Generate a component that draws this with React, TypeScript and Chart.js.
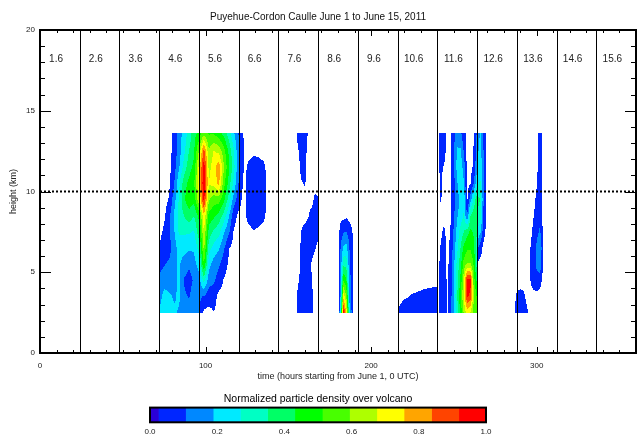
import React, { useEffect, useRef } from 'react';
import { Chart, registerables } from 'chart.js';

Chart.register(...registerables);

const FONT = '"Liberation Sans", Arial, Helvetica, sans-serif';

const TITLE = 'Puyehue-Cordon Caulle June 1 to June 15, 2011';
const X_TITLE = 'time (hours starting from June 1, 0 UTC)';
const Y_TITLE = 'height (km)';
const CB_TITLE = 'Normalized particle density over volcano';

const X_MAX = 360;
const Y_MAX = 20;
const X_TICKS = [0, 100, 200, 300];
const Y_TICKS = [0, 5, 10, 15, 20];
const X_MINOR_STEP = 10;
const Y_MINOR_STEP = 1;
const DAY_BOUNDS = [24, 48, 72, 96, 120, 144, 168, 192, 216, 240, 264, 288, 312, 336];
const DAY_STARTS = [0, 24, 48, 72, 96, 120, 144, 168, 192, 216, 240, 264, 288, 312, 336];
const DAY_LABELS = ['1.6', '2.6', '3.6', '4.6', '5.6', '6.6', '7.6', '8.6', '9.6', '10.6', '11.6', '12.6', '13.6', '14.6', '15.6'];
const REF_HEIGHT = 10;

// contour levels and colours
const LEVELS = [0, 0.025, 0.106, 0.188, 0.269, 0.35, 0.431, 0.513, 0.594, 0.675, 0.756, 0.838, 0.919, 1.0];
const LEVEL_COLORS = ['#2a00d8', '#0026ff', '#0088ff', '#00eaff', '#00ffc4', '#00ff66', '#00ff00', '#48ff00', '#aeff00', '#ffff00', '#ffa500', '#ff4400', '#ff0000'];
const CB_TICKS = [0, 0.2, 0.4, 0.6, 0.8, 1.0];

// height nodes (km), bottom -> top; each column below lists values at these heights
const HEIGHTS = [2.45, 3.5, 4.5, 5.5, 6.5, 7.5, 8.5, 9.5, 10.5, 11.5, 12.5, 13.65];

// Episode A: main plume, days 4-5
const A_TIMES = [72, 75, 78, 81, 84, 87, 90, 93, 96, 99, 102, 105, 108, 111, 114, 117, 120, 123];
const A_COLS = [
  [0.2, 0.15, 0.12, 0.08, 0.03, 0, 0, 0, 0, 0, 0, 0],
  [0.25, 0.22, 0.15, 0.1, 0.07, 0.04, 0.01, 0, 0, 0, 0, 0],
  [0.22, 0.2, 0.15, 0.12, 0.07, 0.1, 0.08, 0.03, 0.01, 0, 0, 0],
  [0.2, 0.18, 0.15, 0.17, 0.15, 0.18, 0.2, 0.15, 0.1, 0.07, 0.05, 0.04],
  [0.18, 0.2, 0.22, 0.2, 0.22, 0.28, 0.3, 0.28, 0.25, 0.18, 0.15, 0.15],
  [0.15, 0.12, 0.1, 0.15, 0.22, 0.28, 0.35, 0.42, 0.4, 0.3, 0.25, 0.22],
  [0.15, 0.1, 0.07, 0.12, 0.2, 0.28, 0.4, 0.48, 0.45, 0.4, 0.35, 0.3],
  [0.18, 0.15, 0.12, 0.16, 0.2, 0.26, 0.35, 0.46, 0.5, 0.45, 0.42, 0.4],
  [0.12, 0.12, 0.15, 0.22, 0.3, 0.4, 0.45, 0.65, 0.72, 0.7, 0.6, 0.45],
  [0, 0.1, 0.3, 0.52, 0.62, 0.68, 0.75, 0.95, 1.0, 0.97, 0.88, 0.55],
  [0, 0.06, 0.14, 0.22, 0.3, 0.4, 0.48, 0.6, 0.68, 0.65, 0.6, 0.5],
  [0.02, 0.06, 0.12, 0.15, 0.24, 0.33, 0.45, 0.55, 0.7, 0.72, 0.68, 0.5],
  [0, 0, 0.07, 0.12, 0.2, 0.3, 0.4, 0.55, 0.78, 0.82, 0.65, 0.45],
  [0, 0, 0.02, 0.06, 0.12, 0.2, 0.32, 0.45, 0.55, 0.6, 0.55, 0.4],
  [0, 0, 0, 0.015, 0.03, 0.12, 0.2, 0.32, 0.4, 0.45, 0.42, 0.3],
  [0, 0, 0, 0, 0, 0.02, 0.05, 0.15, 0.25, 0.3, 0.28, 0.2],
  [0, 0, 0, 0, 0, 0, 0.01, 0.06, 0.1, 0.12, 0.12, 0.1],
  [0, 0, 0, 0, 0, 0, 0, 0, 0.01, 0.03, 0.03, 0.02],
];

// Episode B: detached blob, day 6
const B_TIMES = [123, 126, 129, 132, 135, 138];
const B_COLS = [
  [0, 0, 0, 0, 0, 0, 0, 0, 0, 0, 0, 0],
  [0, 0, 0, 0, 0, 0, 0.05, 0.06, 0.06, 0.04, 0, 0],
  [0, 0, 0, 0, 0, 0.02, 0.07, 0.08, 0.07, 0.06, 0.01, 0],
  [0, 0, 0, 0, 0, 0.01, 0.06, 0.07, 0.07, 0.05, 0.01, 0],
  [0, 0, 0, 0, 0, 0, 0.04, 0.05, 0.05, 0.04, 0, 0],
  [0, 0, 0, 0, 0, 0, 0, 0, 0, 0, 0, 0],
];

// Episode C: thin streak, day 7
const C_TIMES = [154, 156, 158, 160, 162, 164, 166, 168, 170];
const C_COLS = [
  [0, 0, 0, 0, 0, 0, 0, 0, 0, 0, 0, 0],
  [0.05, 0.04, 0.02, 0, 0, 0, 0, 0, 0, 0, 0.02, 0.05],
  [0.06, 0.06, 0.05, 0.04, 0.04, 0.03, 0, 0, 0.02, 0.05, 0.06, 0.06],
  [0.06, 0.06, 0.06, 0.06, 0.06, 0.05, 0, 0, 0.03, 0.04, 0.05, 0.06],
  [0.06, 0.06, 0.06, 0.05, 0.06, 0.06, 0.02, 0, 0, 0, 0, 0.02],
  [0.04, 0.04, 0.03, 0.02, 0.05, 0.06, 0.05, 0, 0, 0, 0, 0],
  [0, 0, 0, 0, 0.03, 0.06, 0.06, 0.04, 0, 0, 0, 0],
  [0, 0, 0, 0, 0.01, 0.04, 0.04, 0.03, 0, 0, 0, 0],
  [0, 0, 0, 0, 0, 0, 0, 0, 0, 0, 0, 0],
];

// Episode D: low column with red core, day 8
const D_TIMES = [180.7, 181.7, 183.3, 185, 187, 188.9];
const D_COLS = [
  [0.06, 0.05, 0.05, 0.04, 0.04, 0.02, 0, 0, 0, 0, 0, 0],
  [0.3, 0.22, 0.18, 0.15, 0.12, 0.06, 0, 0, 0, 0, 0, 0],
  [0.97, 0.72, 0.5, 0.33, 0.2, 0.1, 0, 0, 0, 0, 0, 0],
  [0.75, 0.6, 0.45, 0.32, 0.22, 0.11, 0.01, 0, 0, 0, 0, 0],
  [0.2, 0.16, 0.14, 0.12, 0.1, 0.06, 0, 0, 0, 0, 0, 0],
  [0.05, 0.05, 0.04, 0.04, 0.04, 0.02, 0, 0, 0, 0, 0, 0],
];

// Episode E: low wedge, day 10
const E_TIMES = [216, 220, 224, 228, 232, 236, 240];
const E_COLS = [
  [0.03, 0, 0, 0, 0, 0, 0, 0, 0, 0, 0, 0],
  [0.07, 0.015, 0, 0, 0, 0, 0, 0, 0, 0, 0, 0],
  [0.07, 0.028, 0, 0, 0, 0, 0, 0, 0, 0, 0, 0],
  [0.07, 0.035, 0, 0, 0, 0, 0, 0, 0, 0, 0, 0],
  [0.07, 0.045, 0, 0, 0, 0, 0, 0, 0, 0, 0, 0],
  [0.07, 0.055, 0, 0, 0, 0, 0, 0, 0, 0, 0, 0],
  [0.07, 0.065, 0, 0, 0, 0, 0, 0, 0, 0, 0, 0],
];

// Episode F/G: streak and second plume, day 11
const G_TIMES = [240, 242, 244, 246, 248, 250, 252, 254, 256, 258, 260, 262, 264, 264.6, 266, 268, 270];
const G_COLS = [
  [0, 0, 0, 0, 0, 0, 0, 0, 0, 0, 0, 0],
  [0.05, 0.05, 0.05, 0.04, 0.03, 0.01, 0, 0.03, 0.035, 0.04, 0.04, 0.05],
  [0.06, 0.06, 0.06, 0.06, 0.06, 0.04, 0, 0.01, 0.0, 0.02, 0.05, 0.06],
  [0.02, 0.02, 0.015, 0.01, 0.01, 0, 0, 0, 0, 0, 0, 0],
  [0.08, 0.07, 0.06, 0.05, 0.04, 0.03, 0.02, 0.01, 0.01, 0.015, 0.015, 0.01],
  [0.18, 0.2, 0.18, 0.17, 0.15, 0.12, 0.1, 0.07, 0.08, 0.1, 0.1, 0.08],
  [0.3, 0.35, 0.32, 0.3, 0.25, 0.22, 0.18, 0.15, 0.18, 0.22, 0.2, 0.15],
  [0.45, 0.5, 0.45, 0.4, 0.35, 0.3, 0.22, 0.22, 0.25, 0.24, 0.2, 0.12],
  [0.6, 0.68, 0.65, 0.55, 0.45, 0.35, 0.28, 0.25, 0.2, 0.15, 0.1, 0.05],
  [0.7, 0.93, 0.96, 0.6, 0.5, 0.4, 0.1, 0.01, 0, 0, 0, 0],
  [0.65, 0.9, 0.95, 0.6, 0.5, 0.45, 0.35, 0.15, 0.02, 0, 0, 0],
  [0.55, 0.6, 0.55, 0.5, 0.45, 0.42, 0.4, 0.3, 0.1, 0.04, 0.03, 0.02],
  [0.55, 0.5, 0.4, 0.3, 0.3, 0.35, 0.4, 0.4, 0.25, 0.18, 0.15, 0.12],
  [0, 0, 0, 0.01, 0.1, 0.25, 0.33, 0.37, 0.26, 0.2, 0.18, 0.15],
  [0, 0, 0, 0, 0.06, 0.2, 0.3, 0.35, 0.28, 0.25, 0.22, 0.2],
  [0, 0, 0, 0, 0, 0.05, 0.08, 0.1, 0.1, 0.1, 0.1, 0.08],
  [0, 0, 0, 0, 0, 0, 0, 0, 0, 0, 0, 0],
];

// Episode H/I: small blob and streak, day 13
const H_TIMES = [286, 288, 290, 292, 294, 296, 298, 300, 302, 304];
const H_COLS = [
  [0, 0, 0, 0, 0, 0, 0, 0, 0, 0, 0, 0],
  [0.06, 0.035, 0, 0, 0, 0, 0, 0, 0, 0, 0, 0],
  [0.07, 0.045, 0, 0, 0, 0, 0, 0, 0, 0, 0, 0],
  [0.07, 0.04, 0, 0, 0, 0, 0, 0, 0, 0, 0, 0],
  [0.04, 0.01, 0, 0, 0, 0, 0, 0, 0, 0, 0, 0],
  [0, 0, 0.02, 0.03, 0.02, 0, 0, 0, 0, 0, 0, 0],
  [0, 0, 0.06, 0.08, 0.07, 0.04, 0.02, 0, 0, 0, 0, 0],
  [0, 0, 0.08, 0.12, 0.12, 0.08, 0.06, 0.04, 0.02, 0.01, 0, 0],
  [0, 0, 0.05, 0.17, 0.2, 0.12, 0.08, 0.07, 0.06, 0.06, 0.06, 0.06],
  [0, 0, 0, 0, 0, 0, 0, 0, 0, 0, 0, 0],
];

const EPISODES = [
  { times: A_TIMES, cols: A_COLS },
  { times: B_TIMES, cols: B_COLS },
  { times: C_TIMES, cols: C_COLS },
  { times: D_TIMES, cols: D_COLS },
  { times: E_TIMES, cols: E_COLS },
  { times: G_TIMES, cols: G_COLS },
  { times: H_TIMES, cols: H_COLS },
];

function levelOf(v: number): number {
  if (v < LEVELS[1]) return -1;
  for (let k = LEVELS.length - 2; k >= 1; k--) {
    if (v >= LEVELS[k]) return k;
  }
  return -1;
}

function findInterval(arr: number[], v: number): number {
  for (let i = 0; i < arr.length - 1; i++) {
    if (v >= arr[i] && v <= arr[i + 1]) return i;
  }
  return -1;
}

const contourPlugin = {
  id: 'contourFill',
  beforeDatasetsDraw(chart: any) {
    const { ctx, chartArea, scales } = chart;
    const xs = scales.x;
    const ys = scales.y;
    ctx.save();
    ctx.beginPath();
    ctx.rect(chartArea.left, chartArea.top, chartArea.right - chartArea.left, chartArea.bottom - chartArea.top);
    ctx.clip();
    const hMin = HEIGHTS[0];
    const hMax = HEIGHTS[HEIGHTS.length - 1];
    const pyTop = Math.floor(ys.getPixelForValue(hMax)) - 1;
    const pyBot = Math.ceil(ys.getPixelForValue(hMin)) + 1;
    for (const ep of EPISODES) {
      const t0 = ep.times[0];
      const t1 = ep.times[ep.times.length - 1];
      const px0 = Math.floor(xs.getPixelForValue(t0)) - 1;
      const px1 = Math.ceil(xs.getPixelForValue(t1)) + 1;
      for (let px = px0; px <= px1; px++) {
        const t = xs.getValueForPixel(px + 0.5);
        if (t < t0 || t > t1) continue;
        const i = findInterval(ep.times, t);
        if (i < 0) continue;
        const ft = (t - ep.times[i]) / (ep.times[i + 1] - ep.times[i]);
        const cA = ep.cols[i];
        const cB = ep.cols[i + 1];
        let runColor: string | null = null;
        let runStart = pyTop;
        for (let py = pyTop; py <= pyBot + 1; py++) {
          let color: string | null = null;
          if (py <= pyBot) {
            const h = ys.getValueForPixel(py + 0.5);
            if (h >= hMin && h <= hMax) {
              const j = findInterval(HEIGHTS, h);
              if (j >= 0) {
                const fh = (h - HEIGHTS[j]) / (HEIGHTS[j + 1] - HEIGHTS[j]);
                const v =
                  cA[j] * (1 - ft) * (1 - fh) +
                  cB[j] * ft * (1 - fh) +
                  cA[j + 1] * (1 - ft) * fh +
                  cB[j + 1] * ft * fh;
                const lv = levelOf(v);
                if (lv >= 1) color = LEVEL_COLORS[lv];
              }
            }
          }
          if (color !== runColor) {
            if (runColor) {
              ctx.fillStyle = runColor;
              ctx.fillRect(px, runStart, 1, py - runStart);
            }
            runColor = color;
            runStart = py;
          }
        }
      }
    }
    ctx.restore();
  },
};

const framePlugin = {
  id: 'frameTicks',
  afterDatasetsDraw(chart: any) {
    const { ctx, chartArea, scales } = chart;
    const xs = scales.x;
    const ys = scales.y;
    const { left, right, top, bottom } = chartArea;
    ctx.save();
    ctx.strokeStyle = '#000';
    ctx.lineWidth = 1;
    for (const d of DAY_BOUNDS) {
      const px = Math.round(xs.getPixelForValue(d)) + 0.5;
      ctx.beginPath();
      ctx.moveTo(px, top);
      ctx.lineTo(px, bottom);
      ctx.stroke();
    }
    for (let v = 0; v <= X_MAX; v += X_MINOR_STEP) {
      const major = X_TICKS.includes(v);
      const len = major ? 6 : 3;
      const px = Math.round(xs.getPixelForValue(v)) + 0.5;
      ctx.beginPath();
      ctx.moveTo(px, bottom);
      ctx.lineTo(px, bottom - len);
      ctx.moveTo(px, top);
      ctx.lineTo(px, top + len);
      ctx.stroke();
    }
    for (let v = 0; v <= Y_MAX; v += Y_MINOR_STEP) {
      const major = Y_TICKS.includes(v);
      const len = major ? 11 : 5;
      const py = Math.round(ys.getPixelForValue(v)) + 0.5;
      ctx.beginPath();
      ctx.moveTo(left, py);
      ctx.lineTo(left + len, py);
      ctx.moveTo(right, py);
      ctx.lineTo(right - len, py);
      ctx.stroke();
    }
    ctx.lineWidth = 2;
    ctx.strokeRect(left, top, right - left, bottom - top);
    ctx.fillStyle = '#222';
    ctx.font = '10px ' + FONT;
    ctx.textAlign = 'center';
    ctx.textBaseline = 'middle';
    DAY_LABELS.forEach((lab, k) => {
      const px = xs.getPixelForValue(DAY_STARTS[k] + 9.7);
      const py = ys.getPixelForValue(18.2);
      ctx.fillText(lab, px, py);
    });
    ctx.restore();
  },
};

const outlinePlugin = {
  id: 'cbOutline',
  afterDatasetsDraw(chart: any) {
    const { ctx, chartArea } = chart;
    ctx.save();
    ctx.strokeStyle = '#000';
    ctx.lineWidth = 2;
    ctx.strokeRect(chartArea.left, chartArea.top, chartArea.right - chartArea.left, chartArea.bottom - chartArea.top);
    ctx.restore();
  },
};

export default function App() {
  const mainRef = useRef<HTMLCanvasElement>(null);
  const cbRef = useRef<HTMLCanvasElement>(null);

  useEffect(() => {
    document.body.style.margin = '0';
    Chart.defaults.font.family = FONT;

    const main = new Chart(mainRef.current as HTMLCanvasElement, {
      type: 'line',
      data: {
        datasets: [
          {
            data: [
              { x: 0, y: REF_HEIGHT },
              { x: X_MAX, y: REF_HEIGHT },
            ],
            borderColor: '#000',
            borderWidth: 2,
            borderDash: [2, 2],
            pointRadius: 0,
            fill: false,
          },
        ],
      },
      options: {
        animation: false,
        responsive: true,
        maintainAspectRatio: false,
        layout: { padding: { left: 0, right: 1, top: 0, bottom: 0 } },
        plugins: {
          legend: { display: false },
          tooltip: { enabled: false },
          title: {
            display: true,
            text: TITLE,
            color: '#111',
            font: { family: FONT, size: 10, weight: 'normal', lineHeight: 1.2 },
            padding: { top: 11, bottom: 7 },
          },
        },
        scales: {
          x: {
            type: 'linear',
            min: 0,
            max: X_MAX,
            afterBuildTicks: (s: any) => {
              s.ticks = X_TICKS.map((v) => ({ value: v }));
            },
            afterFit: (s: any) => {
              s.height = 37;
            },
            grid: { display: false, drawTicks: false },
            border: { display: false },
            ticks: { color: '#222', font: { size: 8 }, padding: 8, maxRotation: 0, autoSkip: false },
            title: {
              display: true,
              text: X_TITLE,
              color: '#222',
              font: { size: 9, lineHeight: 1.2 },
              padding: { top: 0, bottom: 7.6 },
            },
          },
          y: {
            type: 'linear',
            min: 0,
            max: Y_MAX,
            afterBuildTicks: (s: any) => {
              s.ticks = Y_TICKS.map((v) => ({ value: v }));
            },
            afterFit: (s: any) => {
              s.width = 40;
            },
            grid: { display: false, drawTicks: false },
            border: { display: false },
            ticks: { color: '#222', font: { size: 8 }, padding: 5 },
            title: {
              display: true,
              text: Y_TITLE,
              color: '#222',
              font: { size: 9, lineHeight: 1.2 },
              padding: { top: 8.6, bottom: 0 },
            },
          },
        },
      } as any,
      plugins: [contourPlugin, framePlugin],
    });

    const cb = new Chart(cbRef.current as HTMLCanvasElement, {
      type: 'bar',
      data: {
        labels: ['density'],
        datasets: LEVEL_COLORS.map((c, k) => ({
          data: [[LEVELS[k], LEVELS[k + 1]]],
          backgroundColor: c,
          borderWidth: 0,
          barPercentage: 1,
          categoryPercentage: 1,
          grouped: false,
        })) as any,
      },
      options: {
        indexAxis: 'y',
        animation: false,
        responsive: true,
        maintainAspectRatio: false,
        layout: { padding: { left: 150, right: 151, top: 0, bottom: 0 } },
        plugins: {
          legend: { display: false },
          tooltip: { enabled: false },
          title: {
            display: true,
            text: CB_TITLE,
            color: '#000',
            font: { family: FONT, size: 10.5, weight: 'normal', lineHeight: 1.2 },
            padding: { top: 5, bottom: 2 },
          },
        },
        scales: {
          x: {
            type: 'linear',
            min: 0,
            max: 1,
            afterBuildTicks: (s: any) => {
              s.ticks = CB_TICKS.map((v) => ({ value: v }));
            },
            afterFit: (s: any) => {
              s.height = 14.7;
            },
            grid: { display: false, drawTicks: false },
            border: { display: false },
            ticks: {
              color: '#222',
              font: { size: 8 },
              padding: 5,
              maxRotation: 0,
              autoSkip: false,
              callback: (v: any) => Number(v).toFixed(1),
            },
          },
          y: { display: false },
        },
      } as any,
      plugins: [outlinePlugin],
    });

    return () => {
      main.destroy();
      cb.destroy();
    };
  }, []);

  return (
    <div style={{ position: 'relative', width: 637, height: 437, background: '#fff', overflow: 'hidden' }}>
      <div style={{ position: 'absolute', left: 0, top: 0, width: 637, height: 390 }}>
        <canvas ref={mainRef} />
      </div>
      <div style={{ position: 'absolute', left: 0, top: 388, width: 637, height: 49 }}>
        <canvas ref={cbRef} />
      </div>
    </div>
  );
}
